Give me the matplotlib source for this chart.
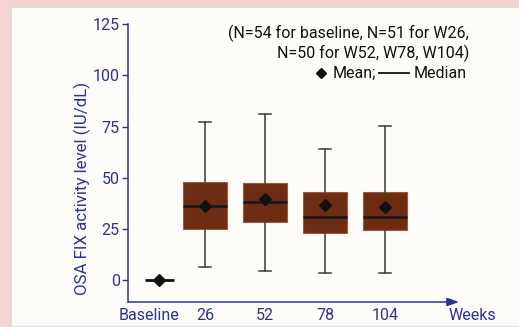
import matplotlib
matplotlib.use("Agg")
import matplotlib.pyplot as plt
from matplotlib.patches import Rectangle
from matplotlib.lines import Line2D
from matplotlib.transforms import ScaledTranslation

# ---- data ----
categories = ["Baseline", "26", "52", "78", "104"]
q1 = [0.0, 24.8, 28.2, 23.1, 24.4]
median = [0.0, 36.2, 38.1, 30.9, 30.9]
q3 = [0.0, 48.0, 47.3, 42.9, 42.9]
whislo = [0.0, 6.4, 4.4, 3.4, 3.4]
whishi = [0.0, 77.4, 81.0, 64.0, 75.4]
mean = [0.0, 36.3, 39.6, 36.7, 35.5]
yticks = [0, 25, 50, 75, 100, 125]

# ---- layout ----
positions = [0.23, 1, 2, 3, 4]
NAVY = "#2E3192"
BROWN = "#6E2C13"
W, H = 519, 327

plt.rcParams['font.family'] = ['Roboto', 'DejaVu Sans']
fig = plt.figure(figsize=(W / 100, H / 100), dpi=100)
fig.patch.set_facecolor("#F2D5D3")
panel = Rectangle((11 / W, 0), 1, (H - 7) / H, transform=fig.transFigure,
                  facecolor="#FDFCF8", edgecolor="#D8DCD4", linewidth=1.2, zorder=-10)
fig.patches.append(panel)

ax = fig.add_axes([128 / W, (H - 302) / H, (459 - 128) / W, (302 - 24.3) / H])
ax.set_facecolor("none")
ax.set_zorder(1)

stats = []
for i in range(1, len(categories)):
    stats.append(dict(med=median[i], q1=q1[i], q3=q3[i], whislo=whislo[i],
                      whishi=whishi[i], mean=mean[i], fliers=[]))
ax.bxp(stats, positions=positions[1:], widths=0.73, patch_artist=True,
       showmeans=True, showfliers=False,
       boxprops=dict(facecolor=BROWN, edgecolor="#9A5A44", linewidth=0.8),
       medianprops=dict(color="#1a1a1a", linewidth=2.0),
       whiskerprops=dict(color="#3a3a3a", linewidth=1.1),
       capprops=dict(color="#3a3a3a", linewidth=1.1),
       capwidths=0.2,
       meanprops=dict(marker="D", markerfacecolor="#111111", markeredgecolor="#111111",
                      markersize=6.5))
# baseline (no spread)
ax.hlines(median[0], positions[0] - 0.24, positions[0] + 0.24, color="#111111", linewidth=2.0)
ax.plot([positions[0]], [mean[0]], marker="D", color="#111111", markersize=6.5)

ax.set_xlim(-0.29, 5.23)
ax.set_ylim(-10.7, 125)
ax.set_yticks(yticks)
ax.set_xticks(positions)
ax.set_xticklabels(categories)
ax.tick_params(axis="y", colors=NAVY, labelsize=11.5, length=4, width=1, direction="out", pad=2)
ax.tick_params(axis="x", colors=NAVY, labelsize=11.5, length=0, pad=4)
lbl0 = ax.xaxis.get_major_ticks()[0].label1
lbl0.set_transform(lbl0.get_transform() + ScaledTranslation(-0.10, 0, fig.dpi_scale_trans))
for s in ["top", "right", "bottom"]:
    ax.spines[s].set_visible(False)
ax.spines["left"].set_color(NAVY)
ax.spines["left"].set_linewidth(1.1)
ax.annotate("", xy=(1.0, 0), xytext=(0, 0), xycoords="axes fraction",
            arrowprops=dict(arrowstyle="-|>,head_length=0.7,head_width=0.25",
                            color=NAVY, linewidth=1.1, shrinkA=0, shrinkB=0))

fig.text(472 / W, 1 - 315 / H, "Weeks", color=NAVY, fontsize=11.5, ha="center", va="center")
fig.text(82 / W, 1 - 188.5 / H, "OSA FIX activity level (IU/dL)", color=NAVY,
         fontsize=12.2, rotation=90, ha="center", va="center")

fig.text(469 / W, 1 - 33 / H, "(N=54 for baseline, N=51 for W26,", fontsize=11.5,
         ha="right", va="center", color="#111111")
fig.text(469 / W, 1 - 53 / H, "N=50 for W52, W78, W104)", fontsize=11.5,
         ha="right", va="center", color="#111111")
fig.text(467 / W, 1 - 73 / H, "Median", fontsize=11.5, ha="right", va="center", color="#111111")
fig.text(376 / W, 1 - 73 / H, "Mean;", fontsize=11.5, ha="right", va="center", color="#111111")
fig.lines.append(Line2D([379 / W, 409 / W], [1 - 73 / H, 1 - 73 / H],
                        transform=fig.transFigure, color="#111111", linewidth=1.3))
fig.lines.append(Line2D([321 / W], [1 - 73 / H], transform=fig.transFigure,
                        marker="D", color="#111111", markersize=5.5, linestyle="none"))

fig.savefig("out.png", dpi=100, facecolor=fig.get_facecolor())
